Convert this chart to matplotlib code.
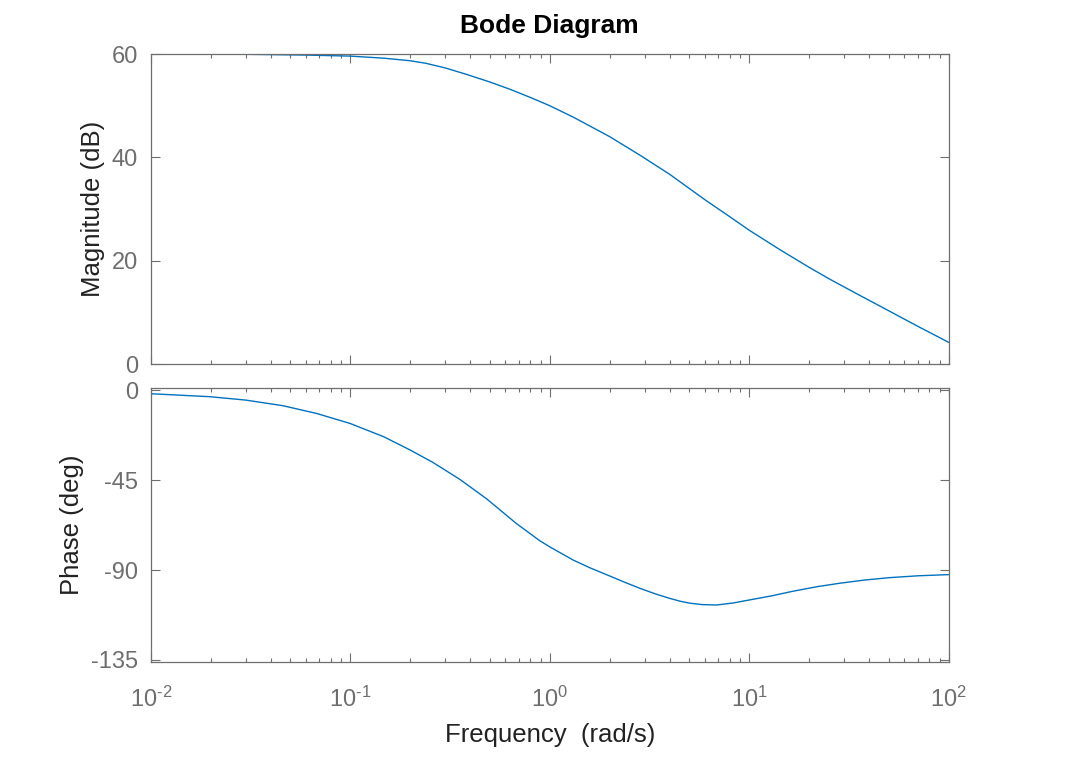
import matplotlib.pyplot as plt
from matplotlib.ticker import FixedLocator, LogLocator, NullFormatter

plt.rcParams['font.family'] = ['Liberation Sans', 'DejaVu Sans']
plt.rcParams['mathtext.fontset'] = 'custom'
plt.rcParams['mathtext.rm'] = 'Liberation Sans'
plt.rcParams['mathtext.default'] = 'regular'

# values
mag_freq = [0.01, 0.03, 0.06, 0.1, 0.147, 0.2, 0.24, 0.3, 0.38, 0.5, 0.63, 0.8, 1.0,
            1.31, 2.0, 2.84, 4.0, 5.0, 6.1, 8.0, 10.0, 14.3, 20.0, 25.4, 35.0, 45.3,
            70.0, 100.0]
mag_db = [60.0, 59.95, 59.8, 59.6, 59.2, 58.7, 58.2, 57.3, 56.1, 54.6, 53.2, 51.6,
          50.0, 47.8, 44.0, 40.4, 36.7, 34.0, 31.6, 28.5, 25.9, 22.1, 18.7, 16.4,
          13.5, 11.2, 7.3, 4.2]

ph_freq = [0.01, 0.0198, 0.03, 0.046, 0.068, 0.1, 0.147, 0.2, 0.26, 0.355, 0.48,
           0.68, 0.89, 1.0, 1.31, 1.6, 2.0, 2.4, 2.84, 3.4, 4.0, 4.5, 5.05, 5.8,
           6.87, 8.3, 10.0, 13.0, 16.6, 22.0, 28.5, 38.0, 50.8, 70.0, 100.0]
ph_deg = [-1.8, -3.3, -5.0, -7.8, -11.7, -16.7, -23.3, -30.0, -36.2, -44.7, -54.2,
          -66.7, -75.3, -78.4, -85.0, -89.0, -93.0, -96.3, -99.2, -102.0, -104.2,
          -105.6, -106.6, -107.3, -107.5, -106.5, -105.0, -102.9, -100.6, -98.3,
          -96.6, -95.0, -93.8, -92.9, -92.3]

mag_ticks = [0, 20, 40, 60]
ph_ticks = [0, -45, -90, -135]
ph_tick_labels = ['0', '-45', '-90', '-135']
freq_ticks = [0.01, 0.1, 1, 10, 100]
freq_tick_labels = [r'$10^{\text{-2}}$', r'$10^{\text{-1}}$', r'$10^{0}$',
                    r'$10^{1}$', r'$10^{2}$']

line_color = '#0072BD'
axis_gray = '#6e6e6e'

fig = plt.figure(figsize=(10.82, 7.82), dpi=100)
ax1 = fig.add_axes([0.1393, 0.5345, 0.7375, 0.3964])
ax2 = fig.add_axes([0.1393, 0.1535, 0.7375, 0.3507])

ax1.plot(mag_freq, mag_db, color=line_color, lw=1.0)
ax2.plot(ph_freq, ph_deg, color=line_color, lw=1.0)

for ax in (ax1, ax2):
    ax.set_xscale('log')
    ax.set_xlim(0.01, 100)
    ax.xaxis.set_major_locator(FixedLocator(freq_ticks))
    ax.xaxis.set_minor_locator(LogLocator(base=10, subs=range(2, 10), numticks=100))
    ax.xaxis.set_minor_formatter(NullFormatter())
    ax.tick_params(which='both', direction='in', top=True, right=True,
                   color=axis_gray, labelcolor=axis_gray, labelsize=17)
    ax.tick_params(which='major', length=6.5, width=0.8)
    ax.tick_params(which='minor', length=3, width=0.8)
    ax.tick_params(axis='y', pad=9)
    for s in ax.spines.values():
        s.set_color(axis_gray)
        s.set_linewidth(0.9)

ax1.set_ylim(0, 60)
ax1.yaxis.set_major_locator(FixedLocator(mag_ticks))
ax1.tick_params(labelbottom=False)
ax1.set_ylabel('Magnitude (dB)', fontsize=18.5, color='#222222', labelpad=5)
ax1.set_title('Bode Diagram', fontsize=19, fontweight='bold', pad=15)

ax2.set_ylim(-136, 1.2)
ax2.set_yticks(ph_ticks)
ax2.set_yticklabels(ph_tick_labels)
ax2.set_ylabel('Phase (deg)', fontsize=18.5, color='#222222', labelpad=5)
ax2.set_xticklabels(freq_tick_labels)
ax2.tick_params(axis='x', pad=18)
ax2.set_xlabel('Frequency  (rad/s)', fontsize=18.5, color='#222222', labelpad=8)

fig.savefig('out.png', dpi=100)
